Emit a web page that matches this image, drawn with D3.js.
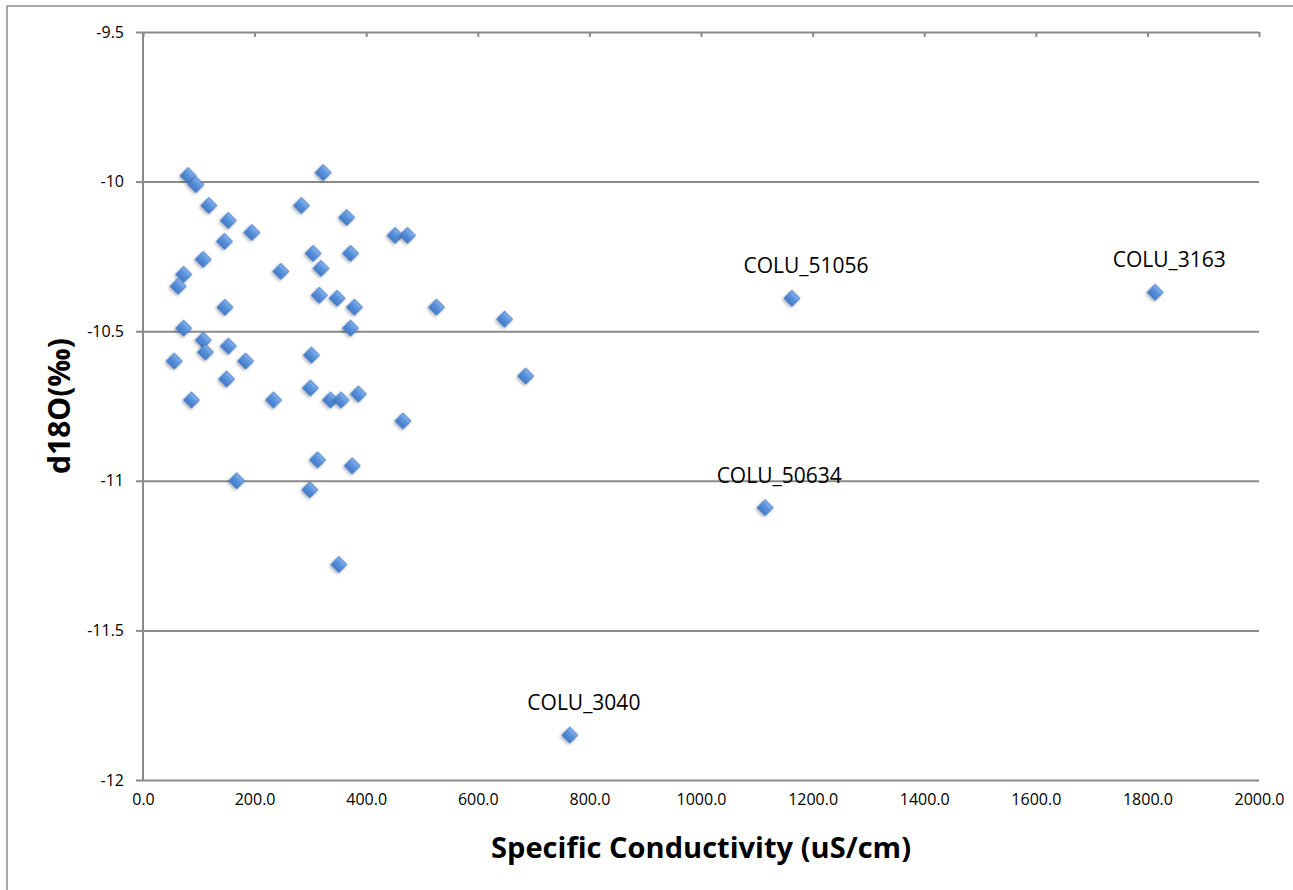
<!DOCTYPE html>
<html>
<head>
<meta charset="utf-8">
<script src="https://cdn.jsdelivr.net/npm/d3@7"></script>
<style>
    body { margin: 0; background: #ffffff; }
    #chart { width: 1293px; height: 890px; }
    text { font-family: "Open Sans", "Liberation Sans", sans-serif; fill: #000; }
</style>
</head>
<body>
<div id="chart"></div>
<script>
// specific conductivity (uS/cm) and d18O (permil) for each sample
const conductivity = [
    81, 95, 323, 118, 284, 365, 153, 195, 452, 474,
    146, 372, 305, 108, 319, 247, 73, 63, 316, 348,
    379, 147, 73, 372, 108, 112, 153, 302, 56, 184,
    150, 87, 234, 300, 336, 355, 386, 466, 313, 375,
    168, 299, 351, 526, 648, 686, 1163, 1814, 1115, 765
];
const d18O = [
    -9.98, -10.01, -9.97, -10.08, -10.08, -10.12, -10.13, -10.17, -10.18, -10.18,
    -10.20, -10.24, -10.24, -10.26, -10.29, -10.30, -10.31, -10.35, -10.38, -10.39,
    -10.42, -10.42, -10.49, -10.49, -10.53, -10.57, -10.55, -10.58, -10.60, -10.60,
    -10.66, -10.73, -10.73, -10.69, -10.73, -10.73, -10.71, -10.80, -10.93, -10.95,
    -11.00, -11.03, -11.28, -10.42, -10.46, -10.65, -10.39, -10.37, -11.09, -11.85
];
// which samples get a name label (index into the arrays above)
const labelIndex = [46, 47, 48, 49];
const labelNames = ["COLU_51056", "COLU_3163", "COLU_50634", "COLU_3040"];

const xTicks = [0, 200, 400, 600, 800, 1000, 1200, 1400, 1600, 1800, 2000];
const yTicks = [-9.5, -10, -10.5, -11, -11.5, -12];

const xTitle = "Specific Conductivity (uS/cm)";
const yTitle = "d18O(‰)";

const points = conductivity.map(function(c, i) { return { x: c, y: d18O[i] }; });

const width = 1293;
const height = 890;
const margin = { top: 32, left: 143 };
const plotW = 1116;
const plotH = 748;

const svg = d3.select("#chart")
    .append("svg")
    .attr("width", width)
    .attr("height", height);

const defs = svg.append("defs");
const grad = defs.append("linearGradient")
    .attr("id", "diamondFill")
    .attr("x1", 0).attr("y1", 0).attr("x2", 0).attr("y2", 1);
grad.append("stop").attr("offset", "0%").attr("stop-color", "#86b4ec");
grad.append("stop").attr("offset", "45%").attr("stop-color", "#5892dc");
grad.append("stop").attr("offset", "100%").attr("stop-color", "#4279c6");

const shadow = defs.append("filter")
    .attr("id", "shadow")
    .attr("x", "-50%").attr("y", "-50%").attr("width", "200%").attr("height", "200%");
shadow.append("feDropShadow")
    .attr("dx", 0).attr("dy", 2)
    .attr("stdDeviation", 1.5)
    .attr("flood-color", "#000")
    .attr("flood-opacity", 0.3);

// outer chart frame
svg.append("rect")
    .attr("x", 7).attr("y", 6)
    .attr("width", width + 20).attr("height", height + 20)
    .attr("fill", "none")
    .attr("stroke", "#8a8a8a")
    .attr("stroke-width", 1.5);

const x = d3.scaleLinear().domain([0, 2000]).range([0, plotW]);
const y = d3.scaleLinear().domain([-12, -9.5]).range([plotH, 0]);

const g = svg.append("g")
    .attr("transform", "translate(" + margin.left + "," + margin.top + ")");

// horizontal gridlines
g.append("g")
    .attr("class", "grid")
    .call(d3.axisLeft(y).tickValues(yTicks).tickSize(-plotW).tickFormat(""))
    .call(function(s) {
        s.select(".domain").remove();
        s.selectAll("line").attr("stroke", "#8a8a8a").attr("stroke-width", 2);
    });

// y axis with ticks and labels
g.append("g")
    .call(d3.axisLeft(y).tickValues(yTicks).tickSize(7).tickPadding(12)
        .tickFormat(function(d) { return String(d); }))
    .call(function(s) {
        s.select(".domain").attr("stroke", "#8a8a8a").attr("stroke-width", 2)
            .attr("d", "M0," + y(-9.5) + "V" + y(-12));
        s.selectAll("line").attr("stroke", "#8a8a8a").attr("stroke-width", 2);
        s.selectAll("text")
            .style("font-family", "'Open Sans', sans-serif")
            .style("font-size", "16px")
            .attr("fill", "#000");
    });

// x tick marks hang from the top line
g.append("g")
    .call(d3.axisBottom(x).tickValues(xTicks).tickSize(5).tickFormat(""))
    .call(function(s) {
        s.select(".domain").remove();
        s.selectAll("line").attr("stroke", "#8a8a8a").attr("stroke-width", 2);
    });

// x labels along the bottom
g.append("g")
    .attr("transform", "translate(0," + plotH + ")")
    .call(d3.axisBottom(x).tickValues(xTicks).tickSize(0).tickPadding(14)
        .tickFormat(d3.format(".1f")))
    .call(function(s) {
        s.select(".domain").remove();
        s.selectAll("text")
            .style("font-family", "'Open Sans', sans-serif")
            .style("font-size", "16px")
            .attr("fill", "#000");
    });

// data points
const diamond = d3.symbol().type(d3.symbolSquare).size(130);
g.selectAll("path.pt")
    .data(points)
    .enter()
    .append("path")
        .attr("class", "pt")
        .attr("d", diamond)
        .attr("transform", function(d) {
            return "translate(" + x(d.x) + "," + y(d.y) + ") rotate(45)";
        })
        .attr("fill", "url(#diamondFill)")
        .attr("stroke", "#3f74bd")
        .attr("stroke-width", 0.8)
        .attr("filter", "url(#shadow)");

// sample name labels
g.selectAll("text.lbl")
    .data(labelIndex)
    .enter()
    .append("text")
        .attr("class", "lbl")
        .attr("x", function(i) { return x(points[i].x) + 14; })
        .attr("y", function(i) { return y(points[i].y) - 25; })
        .attr("text-anchor", "middle")
        .style("font-size", "21px")
        .text(function(i, k) { return labelNames[k]; });

// axis titles
svg.append("text")
    .attr("x", margin.left + plotW / 2)
    .attr("y", 858)
    .attr("text-anchor", "middle")
    .attr("textLength", 420)
    .attr("lengthAdjust", "spacingAndGlyphs")
    .style("font-size", "29px")
    .style("font-weight", "bold")
    .text(xTitle);

svg.append("text")
    .attr("transform", "translate(70," + (margin.top + plotH / 2) + ") rotate(-90)")
    .attr("text-anchor", "middle")
    .style("font-size", "30px")
    .style("font-weight", "bold")
    .text(yTitle);
</script>
</body>
</html>
